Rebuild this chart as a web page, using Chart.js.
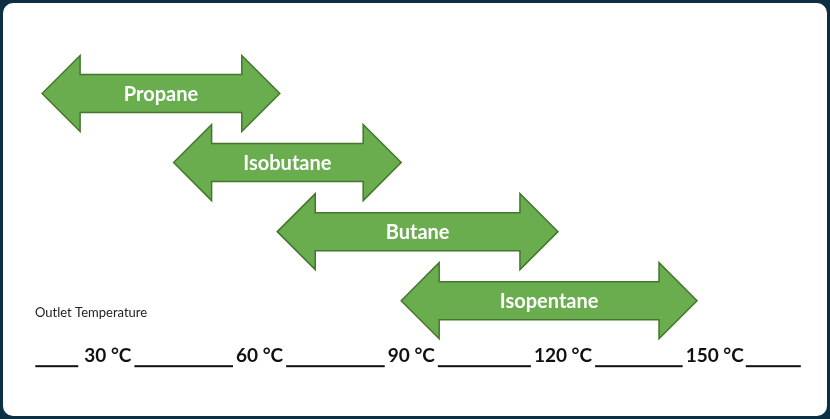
<!DOCTYPE html>
<html>
<head>
<meta charset="utf-8">
<script src="https://cdn.jsdelivr.net/npm/chart.js@4"></script>
<style>
  html, body { margin: 0; padding: 0; }
  body { width: 830px; height: 419px; background: #0c2f44; position: relative; overflow: hidden; }
  #panel { position: absolute; left: 3px; top: 3px; width: 824px; height: 413px; background: #fff; border-radius: 10px; }
  #wrap { position: absolute; left: 0; top: 0; width: 830px; height: 419px; }
</style>
</head>
<body>
<div id="panel"></div>
<div id="wrap"><canvas id="chart" width="830" height="419"></canvas></div>
<script>
const substances = ["Propane", "Isobutane", "Butane", "Isopentane"];
const rangeStart = [17, 43, 63.5, 88];
const rangeEnd = [64, 88, 119, 146.5];
const tempTicks = [30, 60, 90, 120, 150];
const axisCaption = "Outlet Temperature";

const FONT = "Lato, 'Open Sans', sans-serif";

// draws each floating bar as a double headed arrow
const arrowPlugin = {
  id: "arrows",
  afterDatasetsDraw(chart) {
    const { ctx } = chart;
    const meta = chart.getDatasetMeta(0);
    meta.data.forEach((bar, i) => {
      const p = bar.getProps(["x", "y", "base", "height"], true);
      const left = Math.min(p.x, p.base);
      const right = Math.max(p.x, p.base);
      const h = p.height;
      const head = h;
      const y = p.y;
      ctx.save();
      ctx.beginPath();
      ctx.moveTo(left, y);
      ctx.lineTo(left + head, y - h);
      ctx.lineTo(left + head, y - h / 2);
      ctx.lineTo(right - head, y - h / 2);
      ctx.lineTo(right - head, y - h);
      ctx.lineTo(right, y);
      ctx.lineTo(right - head, y + h);
      ctx.lineTo(right - head, y + h / 2);
      ctx.lineTo(left + head, y + h / 2);
      ctx.lineTo(left + head, y + h);
      ctx.closePath();
      ctx.fillStyle = "#6aad4f";
      ctx.fill();
      ctx.lineWidth = 1.5;
      ctx.strokeStyle = "#44762d";
      ctx.stroke();
      ctx.fillStyle = "#ffffff";
      ctx.font = "bold 20px " + FONT;
      ctx.textAlign = "center";
      ctx.textBaseline = "middle";
      ctx.fillText(substances[i], (left + right) / 2, y + 1);
      ctx.restore();
    });
  }
};

// underscores between the temperature labels, plus the caption
const axisLinePlugin = {
  id: "axisLines",
  afterDraw(chart) {
    const { ctx } = chart;
    const xs = chart.scales.x;
    ctx.save();
    ctx.font = "bold 19px " + FONT;
    const spans = xs.ticks.map((t, i) => {
      const px = xs.getPixelForTick(i);
      const w = ctx.measureText(t.value + " °C").width;
      return [px - w / 2, px + w / 2];
    });
    const y = xs.top + 30;
    ctx.fillStyle = "#111";
    const seg = (a, b) => ctx.fillRect(a, y, b - a, 2);
    seg(spans[0][0] - 49, spans[0][0] - 6);
    for (let i = 1; i < spans.length; i++) {
      seg(spans[i - 1][1] + 3, spans[i][0] - 3);
    }
    const last = spans[spans.length - 1];
    seg(last[1] + 2, last[1] + 57);

    ctx.font = "13px " + FONT;
    ctx.fillStyle = "#222";
    ctx.textAlign = "left";
    ctx.textBaseline = "alphabetic";
    ctx.fillText(axisCaption, 35, 317);
    ctx.restore();
  }
};

new Chart(document.getElementById("chart"), {
  type: "bar",
  data: {
    labels: substances,
    datasets: [{
      data: substances.map((s, i) => [rangeStart[i], rangeEnd[i]]),
      backgroundColor: "rgba(0,0,0,0)",
      borderWidth: 0,
      barThickness: 38
    }]
  },
  options: {
    indexAxis: "y",
    responsive: false,
    animation: false,
    layout: { padding: { left: 32, right: 90, top: 59, bottom: 43 } },
    plugins: {
      legend: { display: false },
      tooltip: { enabled: false }
    },
    scales: {
      y: { display: false },
      x: {
        type: "linear",
        min: 15,
        max: 155,
        afterBuildTicks: (scale) => { scale.ticks = tempTicks.map(v => ({ value: v })); },
        grid: { display: false, drawTicks: false },
        border: { display: false },
        ticks: {
          padding: 9,
          color: "#111",
          font: { family: FONT, size: 19, weight: "bold" },
          callback: (v) => v + " °C"
        }
      }
    }
  },
  plugins: [arrowPlugin, axisLinePlugin]
});
</script>
</body>
</html>
